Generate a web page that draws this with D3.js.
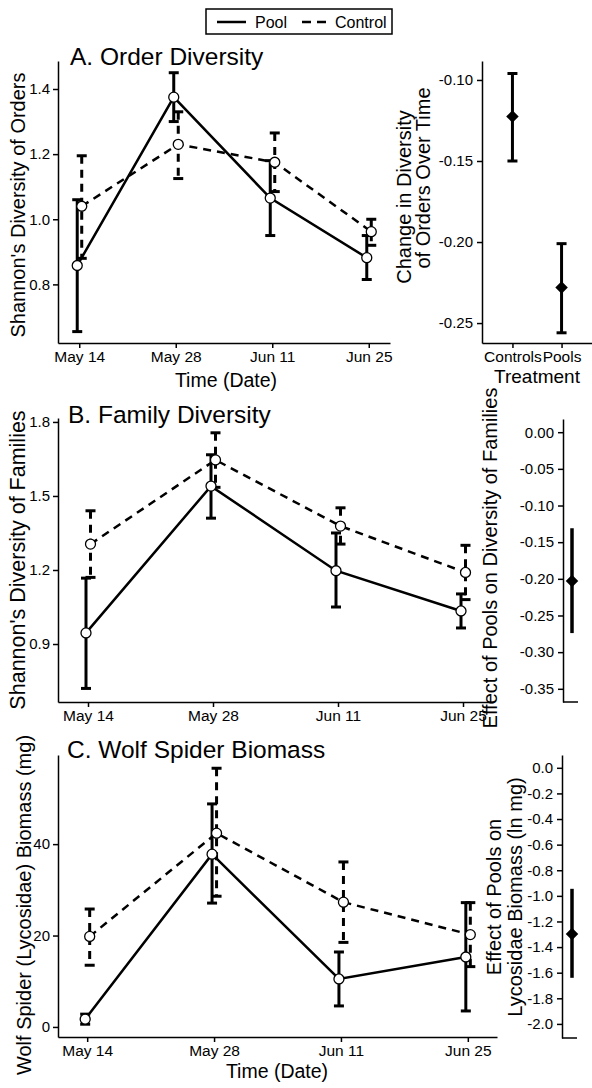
<!DOCTYPE html>
<html><head><meta charset="utf-8">
<script src="https://cdn.jsdelivr.net/npm/d3@7"></script>
<style>
body{margin:0;background:#fff}
text{font-family:"Liberation Sans",Arial,sans-serif;fill:#000}
</style>
</head><body><svg id="c" width="592" height="1088"></svg>
<script>
// ---------- data ----------
const dates = ["May 14", "May 28", "Jun 11", "Jun 25"];
const seriesNames = ["Pool", "Control"];

// A. Order diversity
const orderPoolMean = [0.858, 1.375, 1.065, 0.882];
const orderPoolLo   = [0.655, 1.300, 0.950, 0.815];
const orderPoolHi   = [1.060, 1.450, 1.180, 0.950];
const orderCtrlMean = [1.040, 1.230, 1.175, 0.962];
const orderCtrlLo   = [0.880, 1.125, 1.085, 0.920];
const orderCtrlHi   = [1.195, 1.330, 1.265, 1.000];
const orderTicks    = [0.8, 1.0, 1.2, 1.4];

const treatments     = ["Controls", "Pools"];
const orderSlopeMean = [-0.1225, -0.228];
const orderSlopeLo   = [-0.150, -0.256];
const orderSlopeHi   = [-0.096, -0.201];
const orderSlopeTicks = [-0.25, -0.20, -0.15, -0.10];

// B. Family diversity
const famPoolMean = [0.945, 1.540, 1.197, 1.034];
const famPoolLo   = [0.720, 1.410, 1.050, 0.965];
const famPoolHi   = [1.167, 1.667, 1.350, 1.103];
const famCtrlMean = [1.305, 1.646, 1.378, 1.190];
const famCtrlLo   = [1.170, 1.535, 1.305, 1.080];
const famCtrlHi   = [1.440, 1.756, 1.452, 1.300];
const famTicks    = [0.9, 1.2, 1.5, 1.8];

const famEffectMean = [-0.203];
const famEffectLo   = [-0.274];
const famEffectHi   = [-0.131];
const famEffectTicks = [0.00, -0.05, -0.10, -0.15, -0.20, -0.25, -0.30, -0.35];

// C. Wolf spider biomass
const bioPoolMean = [1.7, 37.8, 10.5, 15.3];
const bioPoolLo   = [0.6, 27.1, 4.6, 3.5];
const bioPoolHi   = [2.8, 48.8, 16.4, 27.2];
const bioCtrlMean = [19.8, 42.4, 27.3, 20.2];
const bioCtrlLo   = [13.5, 28.6, 18.5, 13.2];
const bioCtrlHi   = [25.8, 56.6, 36.1, 27.2];
const bioTicks    = [0, 20, 40];

const bioEffectMean = [-1.297];
const bioEffectLo   = [-1.64];
const bioEffectHi   = [-0.945];
const bioEffectTicks = [0.0, -0.2, -0.4, -0.6, -0.8, -1.0, -1.2, -1.4, -1.6, -1.8, -2.0];

// ---------- helpers ----------
const svg = d3.select("#c");
const hy = f => v => d3.format(f)(v).replace("\u2212", "-");
const DASH = "8,6";
const TITLE_FS = 24.5;

function styleAxis(g, fs) {
  g.selectAll("path.domain").attr("stroke", "#000").attr("stroke-width", 1.5);
  g.selectAll(".tick line").attr("stroke", "#000").attr("stroke-width", 1.5);
  g.selectAll(".tick text").attr("font-size", fs).attr("fill", "#000")
    .style("font-family", "'Liberation Sans',Arial,sans-serif");
}

function rotLabel(lines, y, fs) {
  lines.forEach(l => {
    svg.append("text").attr("transform", `translate(${l.x},${l.y ?? y}) rotate(-90)`)
      .attr("text-anchor", "middle").attr("font-size", fs).text(l.t);
  });
}

function timePanel(cfg) {
  const x = d3.scalePoint().domain(dates).range(cfg.xr).padding(cfg.pad);
  const y = d3.scaleLinear().domain(cfg.yd).range(cfg.yr);
  const g = svg.append("g");
  const gx = g.append("g").attr("transform", `translate(0,${cfg.yr[0]})`)
    .call(d3.axisBottom(x).tickSize(5).tickSizeOuter(0).tickPadding(3));
  styleAxis(gx, 15.5);
  const gy = g.append("g").attr("transform", `translate(${cfg.xr[0]},0)`)
    .call(d3.axisLeft(y).tickValues(cfg.ticks).tickFormat(hy(cfg.fmt)).tickSize(5).tickSizeOuter(0).tickPadding(3));
  styleAxis(gy, 15);

  const series = [
    {name: "Pool", mean: cfg.pm, lo: cfg.pl, hi: cfg.ph, off: -2, dash: null},
    {name: "Control", mean: cfg.cm, lo: cfg.cl, hi: cfg.ch, off: 2.5, dash: DASH}
  ];
  const line = d3.line().x(d => d.x).y(d => d.y);
  series.forEach(s => {
    const pts = dates.map((d, i) => ({x: x(d) + s.off, y: y(s.mean[i])}));
    g.append("path").attr("d", line(pts)).attr("fill", "none")
      .attr("stroke", "#000").attr("stroke-width", 2.5)
      .attr("stroke-dasharray", s.dash);
  });
  series.forEach(s => {
    dates.forEach((d, i) => {
      const cx = x(d) + s.off;
      g.append("line").attr("x1", cx).attr("x2", cx)
        .attr("y1", y(s.hi[i])).attr("y2", y(s.lo[i]))
        .attr("stroke", "#000").attr("stroke-width", 3)
        .attr("stroke-dasharray", s.dash);
      [s.hi[i], s.lo[i]].forEach(v => {
        g.append("line").attr("x1", cx - 5).attr("x2", cx + 5)
          .attr("y1", y(v)).attr("y2", y(v))
          .attr("stroke", "#000").attr("stroke-width", 3);
      });
    });
  });
  series.forEach(s => {
    dates.forEach((d, i) => {
      g.append("circle").attr("cx", x(d) + s.off).attr("cy", y(s.mean[i])).attr("r", 5)
        .attr("fill", "#fff").attr("stroke", "#000").attr("stroke-width", 1.3);
    });
  });
  svg.append("text").attr("x", cfg.title[1]).attr("y", cfg.title[2])
    .attr("font-size", TITLE_FS).text(cfg.title[0]);
}

function diamond(g, cx, cy) {
  g.append("path").attr("d", d3.symbol(d3.symbolSquare, 78)())
    .attr("transform", `translate(${cx},${cy}) rotate(45)`).attr("fill", "#000");
}

function effectPanel(cfg) {
  const y = d3.scaleLinear().domain(cfg.yd).range(cfg.yr);
  const g = svg.append("g");
  const gy = g.append("g").attr("transform", `translate(${cfg.x0},0)`)
    .call(d3.axisLeft(y).tickValues(cfg.ticks).tickFormat(hy(cfg.fmt)).tickSize(5).tickSizeOuter(0).tickPadding(4));
  styleAxis(gy, 15);
  g.append("line").attr("x1", cfg.x0).attr("x2", cfg.x1).attr("y1", cfg.yr[0]).attr("y2", cfg.yr[0])
    .attr("stroke", "#000").attr("stroke-width", 1.5);
  const cx = cfg.px;
  g.append("line").attr("x1", cx).attr("x2", cx)
    .attr("y1", y(cfg.hi[0])).attr("y2", y(cfg.lo[0]))
    .attr("stroke", "#000").attr("stroke-width", 3.5);
  diamond(g, cx, y(cfg.mean[0]));
}

// ---------- legend ----------
svg.append("rect").attr("x", 206).attr("y", 9).attr("width", 186).attr("height", 25)
  .attr("fill", "#fff").attr("stroke", "#000").attr("stroke-width", 1.5);
svg.append("line").attr("x1", 217).attr("x2", 246).attr("y1", 22).attr("y2", 22)
  .attr("stroke", "#000").attr("stroke-width", 2.5);
svg.append("text").attr("x", 255).attr("y", 28).attr("font-size", 16).text(seriesNames[0]);
svg.append("line").attr("x1", 302).attr("x2", 326).attr("y1", 22).attr("y2", 22)
  .attr("stroke", "#000").attr("stroke-width", 2.5).attr("stroke-dasharray", "9,6");
svg.append("text").attr("x", 335).attr("y", 28).attr("font-size", 16).text(seriesNames[1]);

// ---------- panel A ----------
timePanel({xr: [58, 390], pad: 0.22, yd: [0.62, 1.486], yr: [343, 61], ticks: orderTicks, fmt: ".1f",
  pm: orderPoolMean, pl: orderPoolLo, ph: orderPoolHi, cm: orderCtrlMean, cl: orderCtrlLo, ch: orderCtrlHi,
  title: ["A. Order Diversity", 70, 65]});
svg.append("text").attr("x", 226).attr("y", 387).attr("text-anchor", "middle").attr("font-size", 19.5).text("Time (Date)");
rotLabel([{t: "Shannon's Diversity of Orders", x: 25}], 205, 20);

// right A
{
  const x = d3.scalePoint().domain(treatments).range([482, 592]).padding(0.62);
  const y = d3.scaleLinear().domain([-0.2623, -0.0883]).range([343, 61]);
  const g = svg.append("g");
  const gx = g.append("g").attr("transform", "translate(0,343)")
    .call(d3.axisBottom(x).tickSize(5).tickSizeOuter(0).tickPadding(3));
  styleAxis(gx, 15.5);
  const gy = g.append("g").attr("transform", "translate(482,0)")
    .call(d3.axisLeft(y).tickValues(orderSlopeTicks).tickFormat(hy(".2f")).tickSize(5).tickSizeOuter(0).tickPadding(4));
  styleAxis(gy, 15);
  treatments.forEach((t, i) => {
    const cx = x(t);
    g.append("line").attr("x1", cx).attr("x2", cx).attr("y1", y(orderSlopeHi[i])).attr("y2", y(orderSlopeLo[i]))
      .attr("stroke", "#000").attr("stroke-width", 3);
    [orderSlopeHi[i], orderSlopeLo[i]].forEach(v => g.append("line").attr("x1", cx - 5).attr("x2", cx + 5)
      .attr("y1", y(v)).attr("y2", y(v)).attr("stroke", "#000").attr("stroke-width", 3));
    diamond(g, cx, y(orderSlopeMean[i]));
  });
  svg.append("text").attr("x", 537).attr("y", 383).attr("text-anchor", "middle").attr("font-size", 19).text("Treatment");
  rotLabel([{t: "Change in Diversity", x: 411, y: 197}, {t: "of Orders Over Time", x: 430, y: 178}], null, 20);
}

// ---------- panel B ----------
timePanel({xr: [58, 493], pad: 0.24, yd: [0.665, 1.816], yr: [702, 418], ticks: famTicks, fmt: ".1f",
  pm: famPoolMean, pl: famPoolLo, ph: famPoolHi, cm: famCtrlMean, cl: famCtrlLo, ch: famCtrlHi,
  title: ["B. Family Diversity", 68, 423]});
rotLabel([{t: "Shannon's Diversity of Families", x: 25}], 560, 21.5);
effectPanel({x0: 563, x1: 578, px: 572, yd: [-0.368, 0.018], yr: [702, 419], ticks: famEffectTicks, fmt: ".2f",
  mean: famEffectMean, lo: famEffectLo, hi: famEffectHi});
rotLabel([{t: "Effect of Pools on Diversity of Families", x: 497}], 558, 20);

// ---------- panel C ----------
timePanel({xr: [58, 497], pad: 0.23, yd: [-2.2, 59.5], yr: [1037, 755], ticks: bioTicks, fmt: "d",
  pm: bioPoolMean, pl: bioPoolLo, ph: bioPoolHi, cm: bioCtrlMean, cl: bioCtrlLo, ch: bioCtrlHi,
  title: ["C. Wolf Spider Biomass", 67, 758]});
svg.append("text").attr("x", 277).attr("y", 1078).attr("text-anchor", "middle").attr("font-size", 19.5).text("Time (Date)");
rotLabel([{t: "Wolf Spider (Lycosidae) Biomass (mg)", x: 31}], 905, 20);
effectPanel({x0: 562, x1: 577, px: 572, yd: [-2.11, 0.1], yr: [1038, 755], ticks: bioEffectTicks, fmt: ".1f",
  mean: bioEffectMean, lo: bioEffectLo, hi: bioEffectHi});
rotLabel([{t: "Effect of Pools on", x: 501}, {t: "Lycosidae Biomass (ln mg)", x: 522}], 897, 20);
</script>
</body></html>
